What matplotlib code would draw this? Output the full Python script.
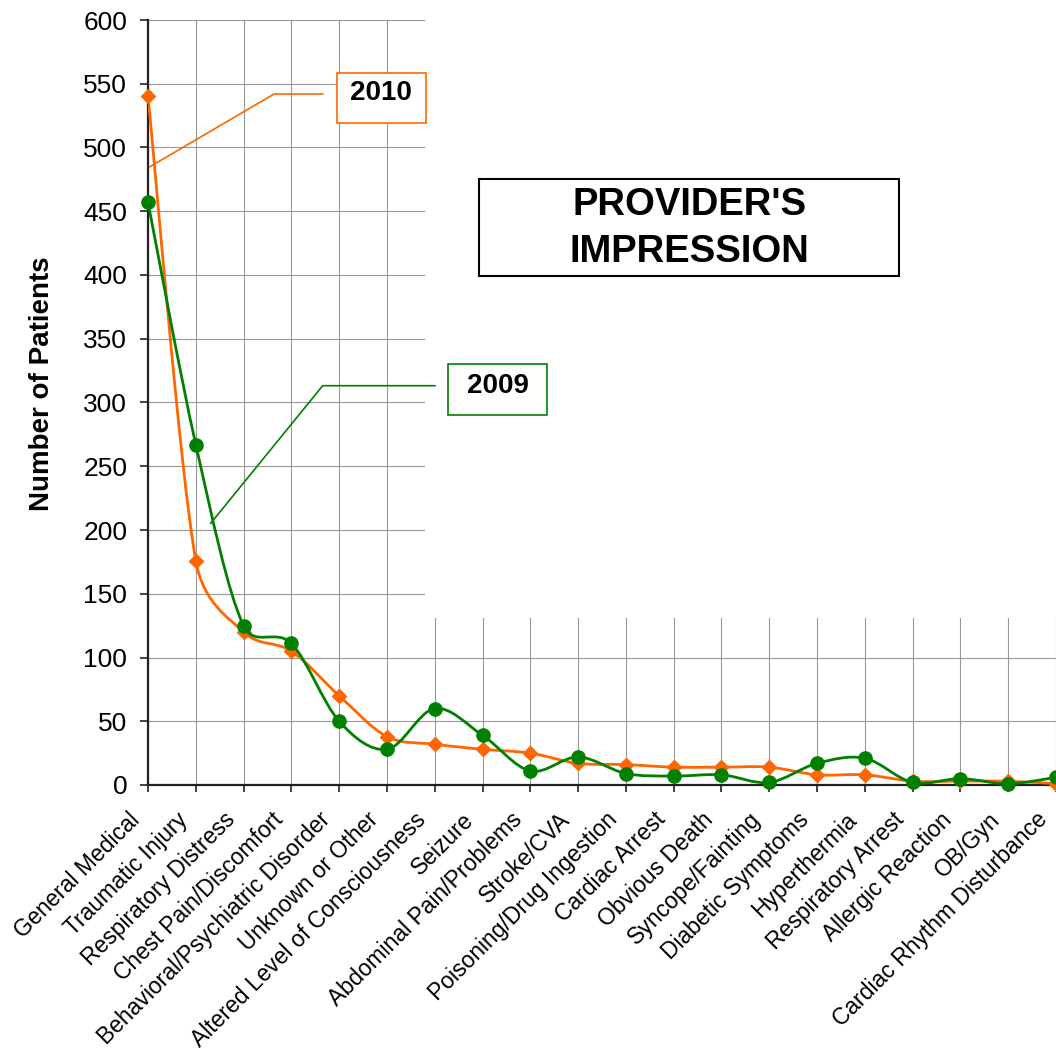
import numpy as np
import matplotlib
matplotlib.use('Agg')
import matplotlib.pyplot as plt
import matplotlib.transforms as mtransforms
from matplotlib.path import Path
from matplotlib.patches import PathPatch, Rectangle
from matplotlib.lines import Line2D

plt.rcParams['font.family'] = ['Liberation Sans', 'DejaVu Sans']

# Data
categories = ['General Medical', 'Traumatic Injury', 'Respiratory Distress',
              'Chest Pain/Discomfort', 'Behavioral/Psychiatric Disorder',
              'Unknown or Other', 'Altered Level of Consciousness', 'Seizure',
              'Abdominal Pain/Problems', 'Stroke/CVA', 'Poisoning/Drug Ingestion',
              'Cardiac Arrest', 'Obvious Death', 'Syncope/Fainting',
              'Diabetic Symptoms', 'Hyperthermia', 'Respiratory Arrest',
              'Allergic Reaction', 'OB/Gyn', 'Cardiac Rhythm Disturbance']
patients_2010 = [540, 176, 120, 105, 70, 38, 32, 28, 25, 17,
                 16, 14, 14, 14, 8, 8, 3, 3, 3, 1]
patients_2009 = [457, 267, 125, 111, 50, 28, 60, 39, 11, 22,
                 9, 7, 8, 2, 17, 21, 2, 5, 1, 6]

orange = '#FF6600'
green = '#008000'
W, H = 1056, 1051


def smooth_path(ax, xs, ys):
    # Excel-like smoothed line: bezier control points from neighbours,
    # capped to half the segment length (worked out in screen pixels)
    to_px = ax.transData
    pts = to_px.transform(np.column_stack([xs, ys]).astype(float))
    n = len(pts)
    verts = [pts[0]]
    codes = [Path.MOVETO]
    for i in range(n - 1):
        p0 = pts[max(i - 1, 0)]
        p1 = pts[i]
        p2 = pts[i + 1]
        p3 = pts[min(i + 2, n - 1)]
        d12 = np.hypot(*(p2 - p1))
        t1 = (p2 - p0) / 6
        t2 = (p3 - p1) / 6
        if np.hypot(*t1) > d12 / 2:
            t1 = t1 * (d12 / 2) / np.hypot(*t1)
        if np.hypot(*t2) > d12 / 2:
            t2 = t2 * (d12 / 2) / np.hypot(*t2)
        verts += [p1 + t1, p2 - t2, p2]
        codes += [Path.CURVE4] * 3
    verts = to_px.inverted().transform(np.array(verts))
    return Path(verts, codes)


def fx(px):
    return px / W


def fy(py):
    return 1 - py / H


fig = plt.figure(figsize=(W / 100, H / 100), dpi=100)
ax = fig.add_axes([fx(148), fy(785), (1056 - 148) / W, (785 - 20) / H])

x = np.arange(len(categories))
ax.set_xlim(0, len(categories) - 1)
ax.set_ylim(0, 600)
ax.set_yticks(range(0, 601, 50))
ax.set_xticks(x)
ax.tick_params(axis='y', direction='out', length=6, width=1.2,
               color='#222222', labelsize=19, pad=9)
ax.tick_params(axis='x', direction='out', length=5, width=1.2,
               color='#222222', pad=8)
ax.set_xticklabels(categories, rotation=45, ha='right', va='top',
                   rotation_mode='anchor', fontsize=16.5)
shift = mtransforms.ScaledTranslation(-0.2, -0.05, fig.dpi_scale_trans)
for lab in ax.get_xticklabels():
    lab.set_transform(lab.get_transform() + shift)

ax.grid(True, color='#999999', lw=0.8)
ax.set_axisbelow(True)
for s in ['top', 'right']:
    ax.spines[s].set_visible(False)
for s in ['left', 'bottom']:
    ax.spines[s].set_color('#222222')
    ax.spines[s].set_linewidth(1.6)

# white area hiding the grid behind the title
ax.add_patch(Rectangle((5.8, 131), 14, 480, facecolor='white',
                       edgecolor='none', zorder=1, clip_on=False))

# 2010 series
ax.add_patch(PathPatch(smooth_path(ax, x, patients_2010), fill=False,
                       edgecolor=orange, lw=2.0, zorder=3))
ax.plot(x, patients_2010, ls='', marker='D', ms=7, color=orange, zorder=4,
        clip_on=False)
# 2009 series
ax.add_patch(PathPatch(smooth_path(ax, x, patients_2009), fill=False,
                       edgecolor=green, lw=2.0, zorder=5))
ax.plot(x, patients_2009, ls='', marker='o', ms=9.5, color=green, zorder=6,
        clip_on=False)

fig.text(fx(42), fy(384), 'Number of Patients', rotation=90, ha='center',
         va='center', fontsize=20, fontweight='bold')

# title box
fig.patches.append(Rectangle((fx(479.3), fy(276)), 420 / W, 96.7 / H,
                             transform=fig.transFigure, facecolor='white',
                             edgecolor='black', lw=1.5, zorder=10))
fig.text(fx(689.5), fy(215), "PROVIDER'S", ha='center', va='baseline',
         fontsize=27.5, fontweight='bold', zorder=11)
fig.text(fx(689.5), fy(261.7), 'IMPRESSION', ha='center', va='baseline',
         fontsize=27.5, fontweight='bold', zorder=11)

# series labels with leader lines
fig.patches.append(Rectangle((fx(336.7), fy(123.3)), 89 / W, 50 / H,
                             transform=fig.transFigure, facecolor='white',
                             edgecolor=orange, lw=1.2, zorder=10))
fig.text(fx(381), fy(100), '2010', ha='center', va='baseline',
         fontsize=20, fontweight='bold', zorder=11)
fig.lines.append(Line2D([fx(322.7), fx(274), fx(150)],
                        [fy(94), fy(94), fy(166.7)],
                        transform=fig.transFigure, color=orange, lw=1.2,
                        zorder=10))

fig.patches.append(Rectangle((fx(448.3), fy(415)), 99 / W, 50.7 / H,
                             transform=fig.transFigure, facecolor='white',
                             edgecolor=green, lw=1.2, zorder=10))
fig.text(fx(497.5), fy(392.7), '2009', ha='center', va='baseline',
         fontsize=20, fontweight='bold', zorder=11)
fig.lines.append(Line2D([fx(435), fx(322.7), fx(210.7)],
                        [fy(385.7), fy(385.7), fy(523.3)],
                        transform=fig.transFigure, color=green, lw=1.2,
                        zorder=10))

fig.savefig('out.png', dpi=100)
